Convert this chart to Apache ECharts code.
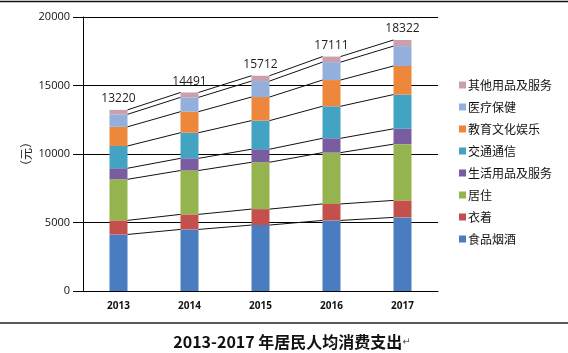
<!DOCTYPE html>
<html><head><meta charset="utf-8">
<script src="https://cdn.jsdelivr.net/npm/echarts@6/dist/echarts.min.js"></script>
<style>html,body{margin:0;padding:0;background:#fff}#c{width:568px;height:353px}</style>
</head><body><div id="c"></div>
<script>
var years = ['2013','2014','2015','2016','2017'];
var seriesNames = ['食品烟酒','衣着','居住','生活用品及服务','交通通信','教育文化娱乐','医疗保健','其他用品及服务'];
var food      = [4127, 4494, 4814, 5151, 5374];
var clothing  = [1027, 1099, 1164, 1203, 1238];
var housing   = [2999, 3201, 3419, 3746, 4107];
var household = [806, 890, 951, 1044, 1121];
var transport = [1627, 1869, 2087, 2338, 2499];
var education = [1398, 1536, 1723, 1915, 2086];
var health    = [912, 1045, 1165, 1307, 1451];
var other     = [324, 357, 389, 407, 446];
var totals    = [13220, 14491, 15712, 17111, 18322];
var yTicks    = [0, 5000, 10000, 15000, 20000];

var values = [food, clothing, housing, household, transport, education, health, other];
var colors = ['#4A7DC0','#C4504D','#95B44F','#7A5CA0','#43A3C3','#EC873C','#93AFDB','#C9A0AC'];

var FONT = '"Open Sans","Noto Sans CJK SC",sans-serif';
var series = [];
values.forEach(function(v, k){
  var s = {
    name: seriesNames[k], type: 'bar', stack: 'total', barWidth: 18,
    data: v, itemStyle: {color: colors[k]}, z: 3
  };
  if (k === values.length - 1) {
    s.label = {show: true, position: 'top', distance: 5, color: '#222', fontSize: 12,
      fontFamily: FONT, formatter: function(p){ return String(totals[p.dataIndex]); }};
  }
  series.push(s);
});
// series lines between the tops of each stack level
var cum = years.map(function(){ return 0; });
var lineData = [];
values.forEach(function(v){
  cum = cum.map(function(c, i){ return c + v[i]; });
  for (var i = 0; i < years.length - 1; i++) lineData.push([i, cum[i], cum[i+1]]);
});
series.push({
  type: 'custom', silent: true, z: 4,
  data: lineData, encode: {x: 0, y: [1, 2]},
  renderItem: function(params, api){
    var i = api.value(0);
    var p1 = api.coord([i, api.value(1)]);
    var p2 = api.coord([i + 1, api.value(2)]);
    return {type: 'line', shape: {x1: p1[0] + 9, y1: p1[1], x2: p2[0] - 9, y2: p2[1]},
      style: {stroke: '#111', lineWidth: 1}};
  }
});

var chart = echarts.init(document.getElementById('c'));
chart.setOption({
  animation: false,
  grid: {left: 83, right: 130, top: 17, bottom: 62},
  xAxis: {
    type: 'category', data: years,
    axisLine: {lineStyle: {color: '#000', width: 1}},
    axisTick: {show: false},
    axisLabel: {color: '#111', fontSize: 10, fontWeight: 'bold', fontFamily: FONT, margin: 10}
  },
  yAxis: {
    type: 'value', min: yTicks[0], max: yTicks[yTicks.length-1], interval: yTicks[1] - yTicks[0],
    axisLine: {show: true, lineStyle: {color: '#000', width: 1}},
    axisTick: {show: true, length: 10, lineStyle: {color: '#000'}},
    splitLine: {lineStyle: {color: '#000', width: 1}},
    axisLabel: {color: '#111', fontSize: 11, fontFamily: FONT, margin: 13,
      formatter: function(v){ return String(v); }}
  },
  legend: {
    orient: 'vertical', left: 454, top: 74, itemWidth: 7, itemHeight: 7, itemGap: 10,
    icon: 'rect', data: seriesNames.slice().reverse(),
    textStyle: {fontSize: 12, color: '#111', fontFamily: '"Noto Sans CJK SC",sans-serif', padding: [0,0,0,-3]}
  },
  graphic: [
    {type: 'line', shape: {x1: 0, y1: 1.5, x2: 568, y2: 1.5}, style: {stroke: '#111', lineWidth: 1.5}},
    {type: 'line', shape: {x1: 0, y1: 323, x2: 568, y2: 323}, style: {stroke: '#222', lineWidth: 1.5}},
    {type: 'text', x: 26, y: 154, rotation: Math.PI/2,
      style: {text: '（元）', fontSize: 12, fill: '#222', fontFamily: '"Noto Sans CJK SC",sans-serif',
        textAlign: 'center', textVerticalAlign: 'middle'}},
    {type: 'text', x: 292, y: 342,
      style: {text: '{t|2013-2017 年居民人均消费支出}{r|↵}', textAlign: 'center', textVerticalAlign: 'middle',
        rich: {t: {fontSize: 16, fontWeight: 'bold', fill: '#111', fontFamily: '"Noto Sans CJK SC",sans-serif'},
               r: {fontSize: 10, fill: '#555', fontFamily: '"DejaVu Sans",sans-serif'}}}}
  ],
  series: series
});
</script></body></html>
